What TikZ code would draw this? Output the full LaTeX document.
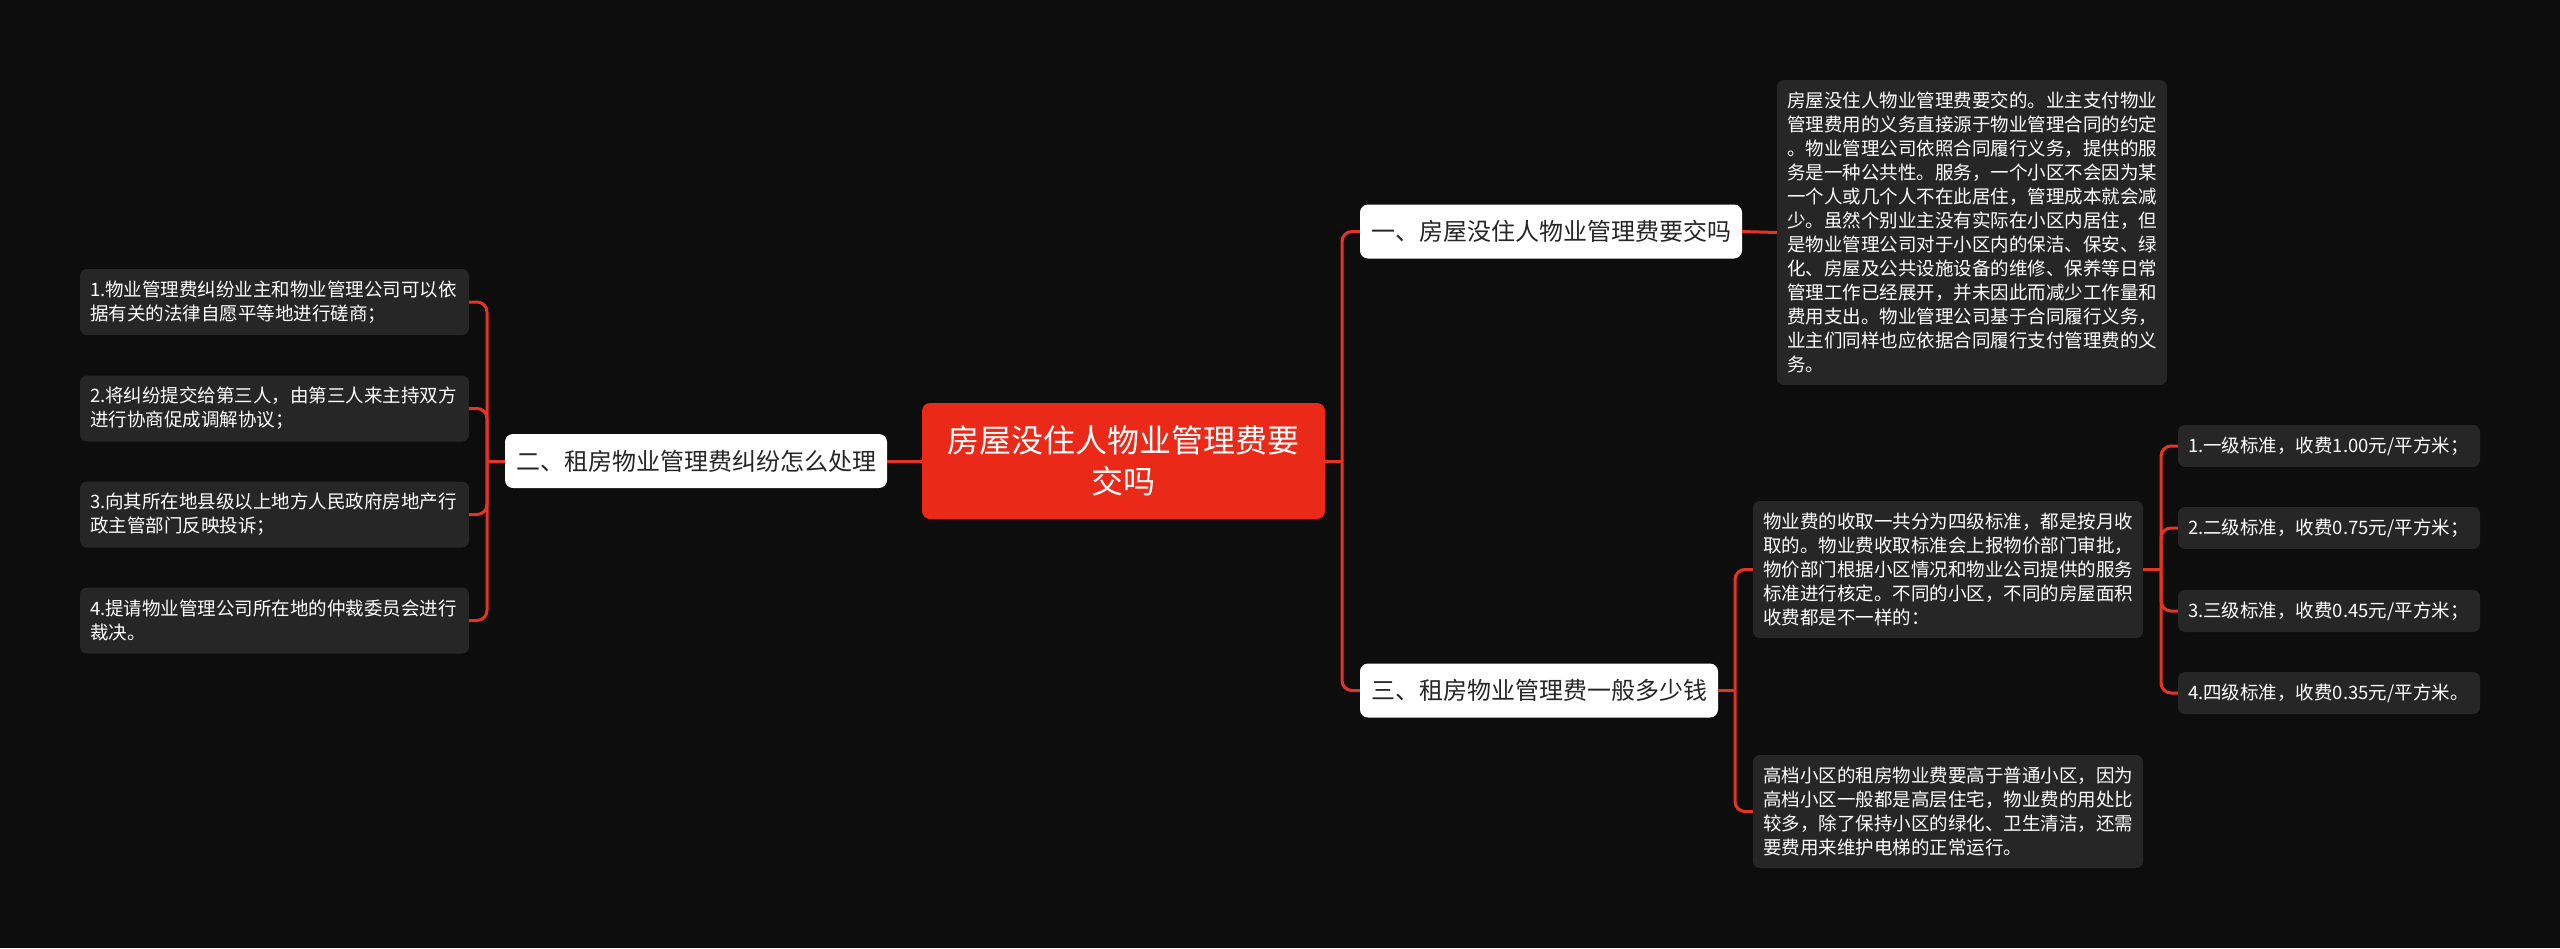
\documentclass[tikz,border=0pt]{standalone}
\usepackage{fontspec}
\usepackage{tikz}
\newfontfamily\cjk{Noto Sans CJK SC}
\definecolor{bgc}{RGB}{13,13,13}
\definecolor{leafc}{RGB}{38,38,38}
\definecolor{linec}{RGB}{228,52,36}
\definecolor{rootc}{RGB}{234,41,24}
\tikzset{
  leaf/.style={fill=leafc, text=white, rounded corners=7pt, align=left, inner xsep=10pt, inner ysep=0pt, font=\cjk\fontsize{18.5pt}{24pt}\selectfont},
  branch/.style={fill=white, text=black!85, rounded corners=8pt, inner sep=0pt, minimum height=54pt, font=\cjk\fontsize{24pt}{30pt}\selectfont},
  link/.style={draw=linec, line width=3pt, rounded corners=10pt},
}
\begin{document}
\begin{tikzpicture}[x=1pt, y=-1pt]
    \useasboundingbox (0,0) rectangle (2560,948);
    \fill[bgc] (0,0) rectangle (2560,948);
    \node[fill=rootc, text=white, rounded corners=8pt, minimum width=403pt, minimum height=116pt, inner sep=0pt, align=center, font=\cjk\fontsize{32pt}{41pt}\selectfont] (root) at (1123.5,461) {房屋没住人物业管理费要\\交吗};
    \node[branch, minimum width=382pt] (q1) at (1551,231.5) {一、房屋没住人物业管理费要交吗};
    \node[branch, minimum width=382pt] (q2) at (696,461) {二、租房物业管理费纠纷怎么处理};
    \node[branch, minimum width=358pt] (q3) at (1539,690.5) {三、租房物业管理费一般多少钱};
    \node[leaf, text width=370pt, minimum height=305pt] (ans1) at (1972,232.5) {房屋没住人物业管理费要交的。业主支付物业\\管理费用的义务直接源于物业管理合同的约定\\。物业管理公司依照合同履行义务，提供的服\\务是一种公共性。服务，一个小区不会因为某\\一个人或几个人不在此居住，管理成本就会减\\少。虽然个别业主没有实际在小区内居住，但\\是物业管理公司对于小区内的保洁、保安、绿\\化、房屋及公共设施设备的维修、保养等日常\\管理工作已经展开，并未因此而减少工作量和\\费用支出。物业管理公司基于合同履行义务，\\业主们同样也应依据合同履行支付管理费的义\\务。};
    \node[leaf, text width=369pt, minimum height=66pt] (way1) at (274.5,302) {1.物业管理费纠纷业主和物业管理公司可以依\\据有关的法律自愿平等地进行磋商；};
    \node[leaf, text width=369pt, minimum height=66pt] (way2) at (274.5,408.5) {2.将纠纷提交给第三人，由第三人来主持双方\\进行协商促成调解协议；};
    \node[leaf, text width=369pt, minimum height=66pt] (way3) at (274.5,514.5) {3.向其所在地县级以上地方人民政府房地产行\\政主管部门反映投诉；};
    \node[leaf, text width=369pt, minimum height=66pt] (way4) at (274.5,620.5) {4.提请物业管理公司所在地的仲裁委员会进行\\裁决。};
    \node[leaf, text width=370pt, minimum height=137pt] (fee) at (1948,569.5) {物业费的收取一共分为四级标准，都是按月收\\取的。物业费收取标准会上报物价部门审批，\\物价部门根据小区情况和物业公司提供的服务\\标准进行核定。不同的小区，不同的房屋面积\\收费都是不一样的：};
    \node[leaf, text width=370pt, minimum height=113pt] (high) at (1948,811.5) {高档小区的租房物业费要高于普通小区，因为\\高档小区一般都是高层住宅，物业费的用处比\\较多，除了保持小区的绿化、卫生清洁，还需\\要费用来维护电梯的正常运行。};
    \node[leaf, text width=282pt, minimum height=42pt] (lv1) at (2329,446) {1.一级标准，收费1.00元/平方米；};
    \node[leaf, text width=282pt, minimum height=42pt] (lv2) at (2329,528) {2.二级标准，收费0.75元/平方米；};
    \node[leaf, text width=282pt, minimum height=42pt] (lv3) at (2329,611) {3.三级标准，收费0.45元/平方米；};
    \node[leaf, text width=282pt, minimum height=42pt] (lv4) at (2329,693) {4.四级标准，收费0.35元/平方米。};
    \coordinate (rj) at (1342,461);
    \coordinate (lj) at (487,461);
    \coordinate (tj) at (1735,690.5);
    \coordinate (fj) at (2161,569.5);
    \draw[link] (root.east) -- (rj);
    \draw[link] (rj) |- (q1.west);
    \draw[link] (rj) |- (q3.west);
    \draw[link] (root.west) -- (q2.east);
    \draw[link] (q1.east) -- (ans1.west);
    \draw[link] (q2.west) -- (lj);
    \foreach \i in {1,...,4}
        \draw[link] (lj) |- (way\i.east);
    \draw[link] (q3.east) -- (tj);
    \draw[link] (tj) |- (fee.west);
    \draw[link] (tj) |- (high.west);
    \draw[link] (fee.east) -- (fj);
    \foreach \i in {1,...,4}
        \draw[link] (fj) |- (lv\i.west);
\end{tikzpicture}
\end{document}
